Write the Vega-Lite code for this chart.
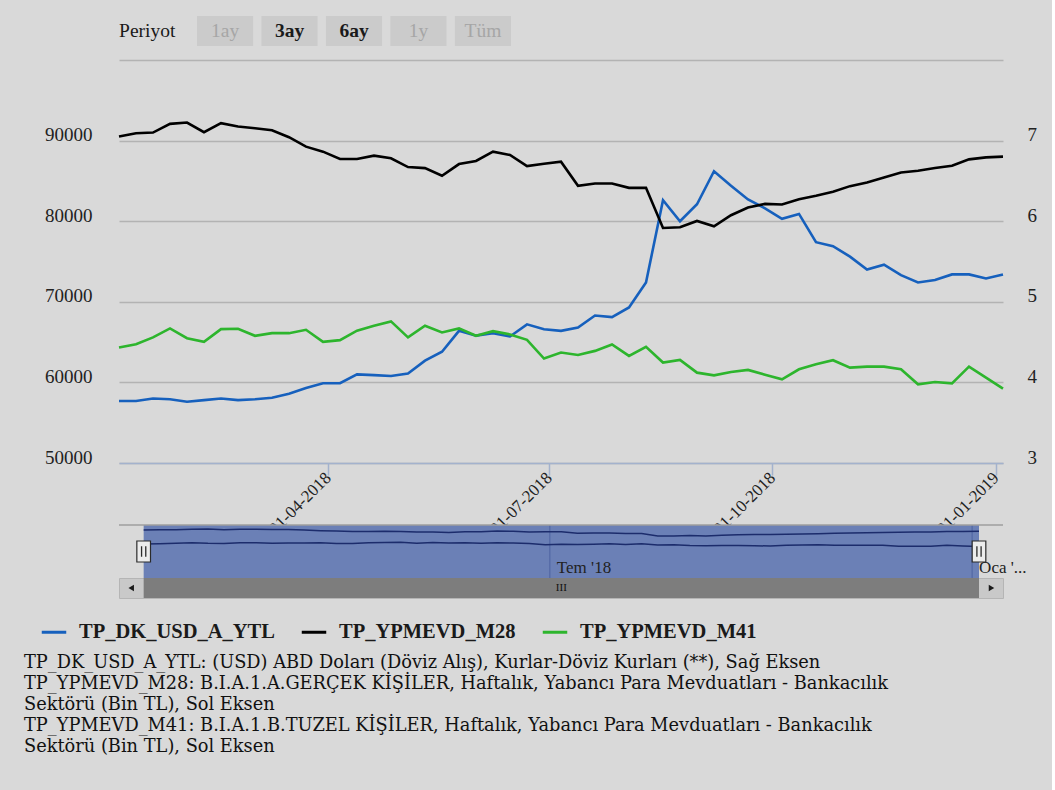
{
  "$schema": "https://vega.github.io/schema/vega-lite/v6.json",
  "background": "#d9d9d9",
  "padding": {"left": 24, "top": 16, "right": 15, "bottom": 34},
  "config": {
    "view": {"stroke": null},
    "font": "Liberation Serif",
    "axis": {"labelFont": "Liberation Serif", "titleFont": "Liberation Serif", "labelFontSize": 19, "labelColor": "#222222"},
    "axisY": {"labelFont": "Liberation Serif", "labelFontSize": 19, "labelColor": "#222222"},
    "legend": {"labelFont": "Liberation Serif", "titleFont": "Liberation Serif"},
    "text": {"font": "Liberation Serif"},
    "style": {"guide-label": {"font": "Liberation Serif", "fontSize": 19, "fill": "#222222"}}
  },
  "data": {
    "values": [
      {"date": "2018-01-05", "TP_DK_USD_A_YTL": 3.77, "TP_YPMEVD_M28": 90500, "TP_YPMEVD_M41": 64330},
      {"date": "2018-01-12", "TP_DK_USD_A_YTL": 3.77, "TP_YPMEVD_M28": 90910, "TP_YPMEVD_M41": 64740},
      {"date": "2018-01-19", "TP_DK_USD_A_YTL": 3.80, "TP_YPMEVD_M28": 91000, "TP_YPMEVD_M41": 65580},
      {"date": "2018-01-26", "TP_DK_USD_A_YTL": 3.79, "TP_YPMEVD_M28": 92080, "TP_YPMEVD_M41": 66700},
      {"date": "2018-02-02", "TP_DK_USD_A_YTL": 3.76, "TP_YPMEVD_M28": 92240, "TP_YPMEVD_M41": 65490},
      {"date": "2018-02-09", "TP_DK_USD_A_YTL": 3.78, "TP_YPMEVD_M28": 91040, "TP_YPMEVD_M41": 65030},
      {"date": "2018-02-16", "TP_DK_USD_A_YTL": 3.80, "TP_YPMEVD_M28": 92160, "TP_YPMEVD_M41": 66610},
      {"date": "2018-02-23", "TP_DK_USD_A_YTL": 3.78, "TP_YPMEVD_M28": 91750, "TP_YPMEVD_M41": 66660},
      {"date": "2018-03-02", "TP_DK_USD_A_YTL": 3.79, "TP_YPMEVD_M28": 91540, "TP_YPMEVD_M41": 65780},
      {"date": "2018-03-09", "TP_DK_USD_A_YTL": 3.81, "TP_YPMEVD_M28": 91290, "TP_YPMEVD_M41": 66110},
      {"date": "2018-03-16", "TP_DK_USD_A_YTL": 3.86, "TP_YPMEVD_M28": 90420, "TP_YPMEVD_M41": 66110},
      {"date": "2018-03-23", "TP_DK_USD_A_YTL": 3.93, "TP_YPMEVD_M28": 89250, "TP_YPMEVD_M41": 66530},
      {"date": "2018-03-30", "TP_DK_USD_A_YTL": 3.99, "TP_YPMEVD_M28": 88630, "TP_YPMEVD_M41": 65030},
      {"date": "2018-04-06", "TP_DK_USD_A_YTL": 3.99, "TP_YPMEVD_M28": 87720, "TP_YPMEVD_M41": 65240},
      {"date": "2018-04-13", "TP_DK_USD_A_YTL": 4.10, "TP_YPMEVD_M28": 87720, "TP_YPMEVD_M41": 66410},
      {"date": "2018-04-20", "TP_DK_USD_A_YTL": 4.09, "TP_YPMEVD_M28": 88130, "TP_YPMEVD_M41": 67030},
      {"date": "2018-04-27", "TP_DK_USD_A_YTL": 4.08, "TP_YPMEVD_M28": 87800, "TP_YPMEVD_M41": 67570},
      {"date": "2018-05-04", "TP_DK_USD_A_YTL": 4.11, "TP_YPMEVD_M28": 86720, "TP_YPMEVD_M41": 65580},
      {"date": "2018-05-11", "TP_DK_USD_A_YTL": 4.27, "TP_YPMEVD_M28": 86590, "TP_YPMEVD_M41": 67030},
      {"date": "2018-05-18", "TP_DK_USD_A_YTL": 4.38, "TP_YPMEVD_M28": 85640, "TP_YPMEVD_M41": 66200},
      {"date": "2018-05-25", "TP_DK_USD_A_YTL": 4.64, "TP_YPMEVD_M28": 87090, "TP_YPMEVD_M41": 66700},
      {"date": "2018-06-01", "TP_DK_USD_A_YTL": 4.58, "TP_YPMEVD_M28": 87470, "TP_YPMEVD_M41": 65780},
      {"date": "2018-06-08", "TP_DK_USD_A_YTL": 4.61, "TP_YPMEVD_M28": 88630, "TP_YPMEVD_M41": 66360},
      {"date": "2018-06-15", "TP_DK_USD_A_YTL": 4.57, "TP_YPMEVD_M28": 88210, "TP_YPMEVD_M41": 65950},
      {"date": "2018-06-22", "TP_DK_USD_A_YTL": 4.72, "TP_YPMEVD_M28": 86840, "TP_YPMEVD_M41": 65280},
      {"date": "2018-06-29", "TP_DK_USD_A_YTL": 4.66, "TP_YPMEVD_M28": 87130, "TP_YPMEVD_M41": 62960},
      {"date": "2018-07-06", "TP_DK_USD_A_YTL": 4.64, "TP_YPMEVD_M28": 87380, "TP_YPMEVD_M41": 63710},
      {"date": "2018-07-13", "TP_DK_USD_A_YTL": 4.68, "TP_YPMEVD_M28": 84390, "TP_YPMEVD_M41": 63410},
      {"date": "2018-07-20", "TP_DK_USD_A_YTL": 4.83, "TP_YPMEVD_M28": 84680, "TP_YPMEVD_M41": 63910},
      {"date": "2018-07-27", "TP_DK_USD_A_YTL": 4.81, "TP_YPMEVD_M28": 84680, "TP_YPMEVD_M41": 64700},
      {"date": "2018-08-03", "TP_DK_USD_A_YTL": 4.93, "TP_YPMEVD_M28": 84140, "TP_YPMEVD_M41": 63290},
      {"date": "2018-08-10", "TP_DK_USD_A_YTL": 5.24, "TP_YPMEVD_M28": 84140, "TP_YPMEVD_M41": 64410},
      {"date": "2018-08-17", "TP_DK_USD_A_YTL": 6.26, "TP_YPMEVD_M28": 79160, "TP_YPMEVD_M41": 62460},
      {"date": "2018-08-24", "TP_DK_USD_A_YTL": 6.00, "TP_YPMEVD_M28": 79240, "TP_YPMEVD_M41": 62790},
      {"date": "2018-08-31", "TP_DK_USD_A_YTL": 6.21, "TP_YPMEVD_M28": 80030, "TP_YPMEVD_M41": 61210},
      {"date": "2018-09-07", "TP_DK_USD_A_YTL": 6.62, "TP_YPMEVD_M28": 79370, "TP_YPMEVD_M41": 60880},
      {"date": "2018-09-14", "TP_DK_USD_A_YTL": 6.44, "TP_YPMEVD_M28": 80740, "TP_YPMEVD_M41": 61300},
      {"date": "2018-09-21", "TP_DK_USD_A_YTL": 6.27, "TP_YPMEVD_M28": 81690, "TP_YPMEVD_M41": 61550},
      {"date": "2018-09-28", "TP_DK_USD_A_YTL": 6.16, "TP_YPMEVD_M28": 82150, "TP_YPMEVD_M41": 60960},
      {"date": "2018-10-05", "TP_DK_USD_A_YTL": 6.03, "TP_YPMEVD_M28": 82070, "TP_YPMEVD_M41": 60380},
      {"date": "2018-10-12", "TP_DK_USD_A_YTL": 6.09, "TP_YPMEVD_M28": 82730, "TP_YPMEVD_M41": 61630},
      {"date": "2018-10-19", "TP_DK_USD_A_YTL": 5.74, "TP_YPMEVD_M28": 83150, "TP_YPMEVD_M41": 62250},
      {"date": "2018-10-26", "TP_DK_USD_A_YTL": 5.69, "TP_YPMEVD_M28": 83650, "TP_YPMEVD_M41": 62750},
      {"date": "2018-11-02", "TP_DK_USD_A_YTL": 5.56, "TP_YPMEVD_M28": 84350, "TP_YPMEVD_M41": 61840},
      {"date": "2018-11-09", "TP_DK_USD_A_YTL": 5.40, "TP_YPMEVD_M28": 84810, "TP_YPMEVD_M41": 61960},
      {"date": "2018-11-16", "TP_DK_USD_A_YTL": 5.46, "TP_YPMEVD_M28": 85430, "TP_YPMEVD_M41": 61960},
      {"date": "2018-11-23", "TP_DK_USD_A_YTL": 5.33, "TP_YPMEVD_M28": 86050, "TP_YPMEVD_M41": 61630},
      {"date": "2018-11-30", "TP_DK_USD_A_YTL": 5.24, "TP_YPMEVD_M28": 86260, "TP_YPMEVD_M41": 59760},
      {"date": "2018-12-07", "TP_DK_USD_A_YTL": 5.27, "TP_YPMEVD_M28": 86590, "TP_YPMEVD_M41": 60050},
      {"date": "2018-12-14", "TP_DK_USD_A_YTL": 5.34, "TP_YPMEVD_M28": 86890, "TP_YPMEVD_M41": 59880},
      {"date": "2018-12-21", "TP_DK_USD_A_YTL": 5.34, "TP_YPMEVD_M28": 87670, "TP_YPMEVD_M41": 61960},
      {"date": "2018-12-28", "TP_DK_USD_A_YTL": 5.29, "TP_YPMEVD_M28": 87920, "TP_YPMEVD_M41": 60590},
      {"date": "2019-01-04", "TP_DK_USD_A_YTL": 5.34, "TP_YPMEVD_M28": 88010, "TP_YPMEVD_M41": 59220}
    ],
    "format": {"parse": {"date": "utc:'%Y-%m-%d'"}}
  },
  "spacing": 0,
  "bounds": "flush",
  "resolve": {
    "scale": {"x": "independent", "y": "independent", "color": "independent"},
    "legend": {"color": "independent"}
  },
  "title": {
    "text": [
      "TP_DK_USD_A_YTL: (USD) ABD Doları (Döviz Alış), Kurlar-Döviz Kurları (**), Sağ Eksen",
      "TP_YPMEVD_M28: B.I.A.1.A.GERÇEK KİŞİLER, Haftalık, Yabancı Para Mevduatları - Bankacılık",
      "Sektörü (Bin TL), Sol Eksen",
      "TP_YPMEVD_M41: B.I.A.1.B.TUZEL KİŞİLER, Haftalık, Yabancı Para Mevduatları - Bankacılık",
      "Sektörü (Bin TL), Sol Eksen"
    ],
    "orient": "bottom",
    "anchor": "start",
    "frame": "group",
    "dx": -95,
    "offset": 11,
    "font": "DejaVu Serif",
    "fontSize": 17.8,
    "fontWeight": "normal",
    "color": "#111111",
    "lineHeight": 21
  },
  "vconcat": [
    {
      "width": 392,
      "height": 30,
      "data": {"values": [
        {"label": "Periyot", "state": "caption"},
        {"label": "1ay", "state": "disabled"},
        {"label": "3ay", "state": "enabled"},
        {"label": "6ay", "state": "enabled"},
        {"label": "1y", "state": "disabled"},
        {"label": "Tüm", "state": "disabled"}
      ]},
      "encoding": {
        "x": {"field": "label", "type": "nominal", "sort": null, "axis": null,
              "scale": {"domain": ["Periyot", "1ay", "3ay", "6ay", "1y", "Tüm"], "paddingInner": 0.13, "paddingOuter": 0.105, "align": 1}}
      },
      "layer": [
        {"transform": [{"filter": "datum.state !== 'caption'"}], "mark": {"type": "rect", "color": "#cbcbcb"}},
        {"transform": [{"filter": "datum.state === 'enabled'"}], "mark": {"type": "text", "font": "Liberation Serif", "fontSize": 19.5, "fontWeight": "bold", "color": "#1a1a1a"}, "encoding": {"text": {"field": "label"}}},
        {"transform": [{"filter": "datum.state === 'disabled'"}], "mark": {"type": "text", "font": "Liberation Serif", "fontSize": 19.5, "color": "#a6a6a6"}, "encoding": {"text": {"field": "label"}}},
        {"transform": [{"filter": "datum.state === 'caption'"}], "mark": {"type": "text", "font": "Liberation Serif", "fontSize": 19.5, "color": "#1a1a1a", "align": "left", "dx": -13.5},
         "encoding": {"x": {"field": "label", "type": "nominal", "bandPosition": 0}, "text": {"field": "label"}}}
      ]
    },
    {"width": 884, "height": 14, "data": {"values": []}, "mark": "point", "encoding": {}},
    {
      "width": 884,
      "height": 403,
      "transform": [{"fold": ["TP_DK_USD_A_YTL", "TP_YPMEVD_M28", "TP_YPMEVD_M41"], "as": ["series", "value"]}],
      "encoding": {
        "x": {"field": "date", "type": "temporal",
              "scale": {"type": "utc", "domain": [{"year": 2018, "month": 1, "date": 5, "utc": true}, {"year": 2019, "month": 1, "date": 4, "utc": true}]},
              "axis": {"title": null,
                       "values": [{"year": 2018, "month": 4, "date": 1, "utc": true}, {"year": 2018, "month": 7, "date": 1, "utc": true}, {"year": 2018, "month": 10, "date": 1, "utc": true}, {"year": 2019, "month": 1, "date": 1, "utc": true}],
                       "format": "%d-%m-%Y", "labelAngle": -45, "labelAlign": "right", "labelBaseline": "middle",
                       "labelFont": "Liberation Serif", "labelFontSize": 17, "labelColor": "#222222", "labelPadding": 0, "grid": false,
                       "domainColor": "#a3b2cd", "domainWidth": 1.5, "tickColor": "#a3b2cd", "tickWidth": 1.5, "tickSize": 12,
                       "labelFlush": false, "labelOverlap": false, "labelBound": false}},
        "color": {"field": "series", "type": "nominal",
                  "scale": {"domain": ["TP_DK_USD_A_YTL", "TP_YPMEVD_M28", "TP_YPMEVD_M41"], "range": ["#1660bd", "#000000", "#2db52d"]},
                  "legend": {"orient": "none", "legendX": -79, "legendY": 558, "direction": "horizontal", "title": null,
                             "symbolType": "stroke", "symbolStrokeWidth": 3, "symbolSize": 600,
                             "labelFont": "Liberation Serif", "labelFontSize": 20.5, "labelFontWeight": "bold", "labelColor": "#1a1a1a",
                             "labelOffset": 11, "columnPadding": 20, "labelLimit": 400, "padding": 0}}
      },
      "layer": [
        {
          "transform": [{"filter": "datum.series === 'TP_DK_USD_A_YTL'"}],
          "mark": {"type": "line", "strokeWidth": 2.6},
          "encoding": {"y": {"field": "value", "type": "quantitative",
                             "scale": {"domain": [3, 8], "nice": false, "zero": false},
                             "axis": {"orient": "right", "title": null, "values": [3, 4, 5, 6, 7], "domain": false, "tickSize": 0, "tickColor": "transparent", "grid": false,
                                      "labelFont": "Liberation Serif", "labelFontSize": 19, "labelColor": "#222222", "labelPadding": 24, "labelBaseline": "alphabetic"}}}
        },
        {
          "transform": [{"filter": "datum.series !== 'TP_DK_USD_A_YTL'"}],
          "mark": {"type": "line", "strokeWidth": 2.6},
          "encoding": {"y": {"field": "value", "type": "quantitative",
                             "scale": {"domain": [50000, 100000], "nice": false, "zero": false},
                             "axis": {"orient": "left", "title": null, "values": [50000, 60000, 70000, 80000, 90000, 100000], "format": "d",
                                      "labelExpr": "datum.value >= 100000 ? '' : datum.label",
                                      "domain": false, "tickSize": 0, "tickColor": "transparent", "grid": true, "gridColor": "#b3b3b3", "gridWidth": 1.5,
                                      "labelFont": "Liberation Serif", "labelFontSize": 19, "labelColor": "#222222", "labelPadding": 27, "labelBaseline": "alphabetic"}}}
        }
      ],
      "resolve": {"scale": {"y": "independent"}, "axis": {"y": "independent"}}
    },
    {"width": 884, "height": 62, "data": {"values": []}, "mark": "point", "encoding": {}},
    {
      "width": 884,
      "height": 53,
      "layer": [
        {
          "mark": {"type": "rect", "color": "#6b80b6"},
          "encoding": {
            "x": {"aggregate": "min", "field": "date", "type": "temporal", "axis": null,
                  "scale": {"type": "utc", "domain": [{"year": 2017, "month": 12, "date": 25, "hours": 6, "utc": true}, {"year": 2019, "month": 1, "date": 14, "hours": 11, "utc": true}]}},
            "x2": {"aggregate": "max", "field": "date"}
          }
        },
        {
          "transform": [{"aggregate": [{"op": "count", "as": "n"}]}],
          "mark": {"type": "rule", "color": "#4d62a0", "strokeWidth": 1},
          "encoding": {"x": {"datum": {"year": 2018, "month": 7, "date": 1, "utc": true}, "type": "temporal", "axis": null}}
        },
        {
          "transform": [{"aggregate": [{"op": "count", "as": "n"}]}],
          "mark": {"type": "rule", "color": "#4d62a0", "strokeWidth": 1},
          "encoding": {"x": {"datum": {"year": 2019, "month": 1, "date": 1, "utc": true}, "type": "temporal", "axis": null}}
        },
        {
          "transform": [{"fold": ["TP_YPMEVD_M28", "TP_YPMEVD_M41"], "as": ["series", "value"]}],
          "mark": {"type": "line", "color": "#1c2c6c", "strokeWidth": 1.5},
          "encoding": {
            "x": {"field": "date", "type": "temporal", "axis": null},
            "y": {"field": "value", "type": "quantitative", "scale": {"domain": [0, 100000], "nice": false}, "axis": null},
            "detail": {"field": "series"}
          }
        },
        {
          "transform": [{"aggregate": [{"op": "count", "as": "n"}]}],
          "mark": {"type": "rule", "color": "#9e9e9e", "strokeWidth": 1.5},
          "encoding": {"y": {"datum": 100000, "type": "quantitative", "axis": null}}
        },
        {
          "mark": {"type": "point", "shape": "M-0.65,-1H0.65V1H-0.65Z", "size": 441, "filled": true, "fill": "#ececec", "stroke": "#2b2b2b", "strokeWidth": 1.2, "opacity": 1},
          "encoding": {"x": {"aggregate": "min", "field": "date", "type": "temporal", "axis": null}}
        },
        {
          "mark": {"type": "point", "shape": "M-0.65,-1H0.65V1H-0.65Z", "size": 441, "filled": true, "fill": "#ececec", "stroke": "#2b2b2b", "strokeWidth": 1.2, "opacity": 1},
          "encoding": {"x": {"aggregate": "max", "field": "date", "type": "temporal", "axis": null}}
        },
        {
          "mark": {"type": "point", "shape": "M-0.2,-0.5V0.5M0.2,-0.5V0.5", "size": 441, "filled": false, "stroke": "#2b2b2b", "strokeWidth": 1.3, "opacity": 1},
          "encoding": {"x": {"aggregate": "min", "field": "date", "type": "temporal", "axis": null}}
        },
        {
          "mark": {"type": "point", "shape": "M-0.2,-0.5V0.5M0.2,-0.5V0.5", "size": 441, "filled": false, "stroke": "#2b2b2b", "strokeWidth": 1.3, "opacity": 1},
          "encoding": {"x": {"aggregate": "max", "field": "date", "type": "temporal", "axis": null}}
        },
        {
          "transform": [{"aggregate": [{"op": "count", "as": "n"}]}],
          "mark": {"type": "text", "text": "Tem '18", "align": "left", "baseline": "middle", "dx": 7, "dy": 16.5, "font": "Liberation Serif", "fontSize": 17, "color": "#222222"},
          "encoding": {"x": {"datum": {"year": 2018, "month": 7, "date": 1, "utc": true}, "type": "temporal", "axis": null}}
        },
        {
          "transform": [{"aggregate": [{"op": "count", "as": "n"}]}],
          "mark": {"type": "text", "text": "Oca '...", "align": "left", "baseline": "middle", "dx": 7, "dy": 16.5, "font": "Liberation Serif", "fontSize": 17, "color": "#222222"},
          "encoding": {"x": {"datum": {"year": 2019, "month": 1, "date": 1, "utc": true}, "type": "temporal", "axis": null}}
        }
      ]
    },
    {
      "width": 884,
      "height": 20,
      "view": {"fill": "#c9c9c9", "stroke": "#b5b5b5"},
      "layer": [
        {
          "mark": {"type": "rect", "color": "#7d7d7d"},
          "encoding": {
            "x": {"aggregate": "min", "field": "date", "type": "temporal", "axis": null,
                  "scale": {"type": "utc", "domain": [{"year": 2017, "month": 12, "date": 25, "hours": 6, "utc": true}, {"year": 2019, "month": 1, "date": 14, "hours": 11, "utc": true}]}},
            "x2": {"aggregate": "max", "field": "date"}
          }
        },
        {
          "mark": {"type": "point", "shape": "triangle-left", "size": 40, "filled": true, "color": "#1a1a1a", "opacity": 1, "xOffset": -12.5},
          "encoding": {"x": {"aggregate": "min", "field": "date", "type": "temporal", "axis": null}}
        },
        {
          "mark": {"type": "point", "shape": "triangle-right", "size": 40, "filled": true, "color": "#1a1a1a", "opacity": 1, "xOffset": 12.5},
          "encoding": {"x": {"aggregate": "max", "field": "date", "type": "temporal", "axis": null}}
        },
        {
          "mark": {"type": "text", "text": "III", "font": "Liberation Serif", "fontSize": 11, "color": "#111111"},
          "encoding": {"x": {"aggregate": "mean", "field": "date", "type": "temporal", "axis": null}}
        }
      ]
    }
  ]
}
